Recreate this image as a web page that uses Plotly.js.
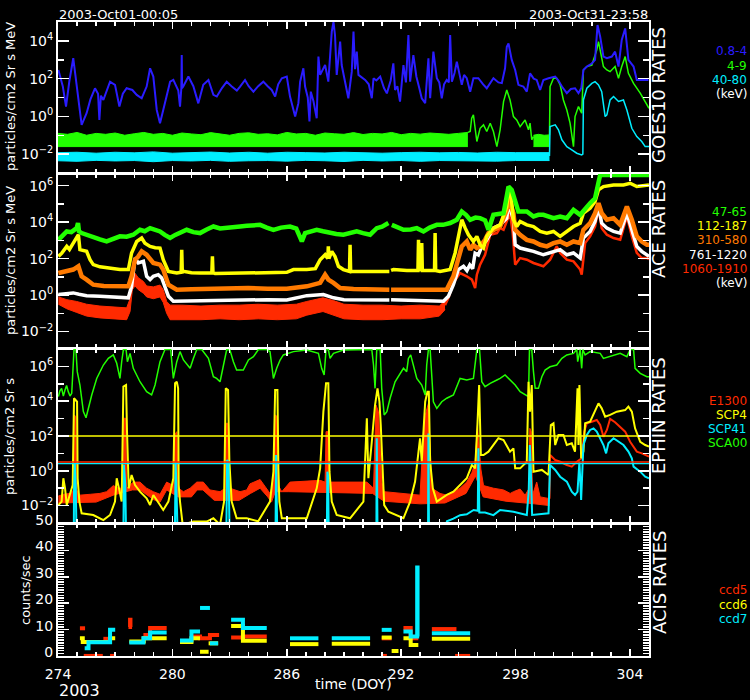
<!DOCTYPE html>
<html><head><meta charset="utf-8">
<script src="https://cdn.plot.ly/plotly-3.0.1.min.js"></script>
<style>html,body{margin:0;padding:0;background:#000}</style>
</head><body><div id="chart" style="width:750px;height:700px"></div>
<script>
// ---------- DATA (time in DOY 2003, rates as log10 values for the log panels) ----------
const xTickVals = [274, 280, 286, 292, 298, 304];
const goesTickVals = [1e-2, 1, 1e2, 1e4];
const goesTickText = ['10<sup>−2</sup>', '10<sup>0</sup>', '10<sup>2</sup>', '10<sup>4</sup>'];
const aceTickVals = [1e-2, 1, 1e2, 1e4, 1e6];
const aceTickText = ['10<sup>−2</sup>', '10<sup>0</sup>', '10<sup>2</sup>', '10<sup>4</sup>', '10<sup>6</sup>'];
const ephinTickVals = aceTickVals;
const ephinTickText = aceTickText;

const goesLabels = ['0.8-4', '4-9', '40-80', '(keV)'];
const aceLabels = ['47-65', '112-187', '310-580', '761-1220', '1060-1910', '(keV)'];
const ephinLabels = ['E1300', 'SCP4', 'SCP41', 'SCA00'];
const acisLabels = ['ccd5', 'ccd6', 'ccd7'];

// GOES 0.8-4 keV (log10)
const goesBlue = [[274.02,2.46],[274.25,1.6],[274.42,0.52],[274.6,1.9],[274.8,3.08],[275.0,1.5],[275.24,-0.45],[275.5,0.17],[275.7,0.9],[275.94,1.49],[276.1,1.2],[276.17,-0.19],[276.25,1.1],[276.38,0.87],[276.55,1.4],[276.73,1.84],[276.99,1.67],[277.22,0.52],[277.4,1.2],[277.6,1.49],[277.9,1.4],[278.13,1.14],[278.39,0.96],[278.65,1.58],[278.83,2.55],[279.0,2.11],[279.18,0.34],[279.35,-0.36],[279.52,0.34],[279.7,1.1],[279.88,1.84],[280.05,1.93],[280.31,1.37],[280.4,0.52],[280.47,1.5],[280.49,3.25],[280.51,1.5],[280.57,1.58],[280.84,2.11],[281.1,1.6],[281.36,0.69],[281.62,1.67],[281.89,1.93],[282.15,1.14],[282.33,1.05],[282.6,1.5],[282.85,1.84],[283.1,1.6],[283.38,1.37],[283.55,1.58],[283.81,1.93],[284.0,1.6],[284.25,1.31],[284.5,1.6],[284.77,1.84],[285.0,1.6],[285.21,1.4],[285.39,1.05],[285.55,1.7],[285.74,2.02],[286.0,2.11],[286.17,1.05],[286.44,-0.01],[286.61,0.7],[286.7,1.84],[286.87,2.55],[286.96,1.58],[287.1,1.0],[287.19,-0.27],[287.26,1.31],[287.4,0.8],[287.57,-0.1],[287.66,3.17],[287.75,2.2],[287.83,2.37],[288.01,2.72],[288.18,1.84],[288.36,4.49],[288.45,5.0],[288.53,4.31],[288.62,2.2],[288.71,3.25],[288.8,3.96],[288.88,2.72],[289.06,1.84],[289.23,0.96],[289.41,2.37],[289.5,4.49],[289.58,2.5],[289.67,3.43],[289.76,2.2],[289.9,2.1],[290.11,1.93],[290.3,1.7],[290.46,0.96],[290.55,2.02],[290.7,1.9],[290.9,2.11],[291.1,1.5],[291.25,1.22],[291.45,1.9],[291.59,2.81],[291.68,1.4],[291.8,1.6],[291.94,0.78],[292.12,2.72],[292.25,1.8],[292.38,4.31],[292.47,1.84],[292.64,3.25],[292.8,2.1],[292.95,1.5],[293.08,0.96],[293.26,0.7],[293.43,3.08],[293.52,0.96],[293.69,3.43],[293.87,2.02],[294.0,1.8],[294.13,0.96],[294.25,1.7],[294.39,1.93],[294.5,1.8],[294.57,4.31],[294.66,1.84],[294.8,2.3],[294.92,2.9],[295.18,1.67],[295.3,2.2],[295.44,2.02],[295.62,1.31],[295.79,2.02],[296.05,2.02],[296.3,1.7],[296.49,1.49],[296.84,2.02],[297.1,1.8],[297.28,1.76],[297.45,2.55],[297.54,3.69],[297.63,3.87],[297.8,2.99],[297.98,2.46],[298.15,1.67],[298.41,1.58],[298.59,1.31],[298.76,2.28],[298.95,2.0],[299.11,1.93],[299.29,1.4],[299.46,1.93],[299.73,2.02],[300.08,2.11],[300.25,1.9],[300.43,1.58],[300.69,1.23],[300.9,1.45],[301.12,1.49],[301.3,1.23],[301.45,1.5],[301.56,2.46],[301.74,2.64],[302.0,2.8],[302.17,2.99],[302.3,4.84],[302.44,4.22],[302.61,3.17],[302.79,3.08],[303.05,3.17],[303.22,3.43],[303.4,2.64],[303.57,4.05],[303.75,4.66],[303.92,2.99],[304.19,2.64],[304.36,1.93],[304.71,1.93],[304.97,1.93]];

// GOES 4-9 keV: quiet-time band (upper edge / lower edge) then active-time line
const goesGreenBandHi = [[274,-0.9],[274.5,-0.95],[275,-0.85],[275.5,-1.0],[276,-0.9],[276.5,-0.95],[277,-0.88],[277.5,-1.0],[278,-0.92],[278.5,-0.85],[279,-0.95],[279.5,-0.9],[280,-1.0],[280.5,-0.88],[281,-0.93],[281.5,-0.97],[282,-0.86],[282.5,-0.92],[283,-1.0],[283.5,-0.9],[284,-0.87],[284.5,-0.95],[285,-0.92],[285.5,-0.98],[286,-0.85],[286.5,-0.93],[287,-0.9],[287.5,-1.0],[288,-0.88],[288.5,-0.92],[289,-0.95],[289.5,-0.86],[290,-0.96],[290.5,-0.9],[291,-0.93],[291.5,-0.85],[292,-0.97],[292.5,-0.9],[293,-0.94],[293.5,-0.88],[294,-0.92],[294.5,-0.95],[295,-0.9],[295.5,-0.85]];
const goesGreenBandLo = [[274,-1.6],[295.5,-1.6]];
const goesGreenBand2Hi = [[298.94,-1.0],[299.2,-0.95],[299.5,-1.0],[299.78,-0.98]];
const goesGreenBand2Lo = [[298.94,-1.6],[299.78,-1.6]];
const goesGreen = [[295.5,-0.85],[295.62,-0.8],[295.7,-0.1],[295.79,0.08],[295.88,-0.63],[295.97,-1.33],[296.14,-0.63],[296.32,-0.45],[296.49,-0.8],[296.67,-0.36],[296.84,-0.8],[297.02,-1.6],[297.19,-0.71],[297.37,0.78],[297.54,1.4],[297.71,0.87],[297.89,-0.01],[298.06,-0.19],[298.24,-0.54],[298.5,-0.19],[298.68,-0.71],[298.76,-0.36],[298.85,-1.24],[298.94,-1.07],[null,null],[299.78,-1.0],[299.81,1.58],[299.99,2.02],[300.16,2.02],[300.34,1.67],[300.51,0.87],[300.69,0.34],[300.86,-0.36],[301.04,-1.6],[301.12,-0.01],[301.3,0.52],[301.47,0.17],[301.56,2.46],[301.74,2.64],[302.0,2.72],[302.26,3.52],[302.35,3.96],[302.44,3.52],[302.61,2.64],[302.79,2.46],[302.96,2.37],[303.22,2.64],[303.4,2.02],[303.57,2.64],[303.75,3.17],[303.92,2.28],[304.19,1.75],[304.54,1.23],[304.89,0.61],[305.0,0.43]];

// GOES 40-80 keV
const goesCyanBandHi = [[274,-1.92],[275,-1.9],[276,-1.95],[277,-1.9],[278,-1.93],[279,-1.88],[280,-1.95],[281,-1.92],[282,-1.89],[283,-1.94],[284,-1.9],[285,-1.95],[286,-1.9],[287,-1.92],[288,-1.94],[289,-1.9],[290,-1.91],[291,-1.95],[292,-1.92],[293,-1.9],[294,-1.93],[295,-1.91],[296,-1.94],[297,-1.9],[298,-1.92],[299,-1.93],[299.78,-1.92]];
const goesCyanBandLo = [[274,-2.35],[275,-2.38],[276,-2.33],[277,-2.36],[278,-2.34],[279,-2.4],[280,-2.34],[281,-2.36],[282,-2.33],[283,-2.38],[284,-2.35],[285,-2.34],[286,-2.37],[287,-2.33],[288,-2.35],[289,-2.39],[290,-2.33],[291,-2.36],[292,-2.34],[293,-2.38],[294,-2.34],[295,-2.35],[296,-2.33],[297,-2.37],[298,-2.34],[299,-2.35],[299.78,-2.34]];
const goesCyan = [[299.78,-2.1],[299.81,-0.54],[300.08,-0.45],[300.25,-0.71],[300.43,-1.24],[300.69,-1.6],[300.95,-1.77],[301.21,-1.95],[301.47,-2.04],[301.53,-2.0],[301.56,0.87],[301.74,1.49],[302.0,1.75],[302.17,1.84],[302.35,1.67],[302.52,1.31],[302.7,-0.01],[302.79,0.08],[302.96,0.87],[303.14,1.05],[303.4,0.79],[303.66,0.87],[303.84,0.34],[304.1,-0.63],[304.36,-1.07],[304.62,-1.33],[304.8,-1.6],[305.0,-1.6]];

// ACE channels (log10)
const aceGreen = [[274.02,3.03],[274.2,3.2],[274.46,3.49],[274.7,3.45],[274.98,3.67],[275.05,3.95],[275.1,3.5],[275.24,3.4],[275.5,3.3],[275.85,3.13],[276.2,3.05],[276.55,2.94],[276.9,3.1],[277.25,3.22],[277.6,3.2],[277.95,3.31],[278.3,3.58],[278.55,3.5],[278.83,3.67],[279.1,3.55],[279.35,3.49],[279.6,3.3],[279.88,3.13],[280.15,3.3],[280.4,3.4],[280.75,3.58],[281.1,3.45],[281.45,3.4],[281.8,3.6],[282.15,3.76],[282.5,3.65],[282.85,3.67],[283.2,3.75],[283.55,3.76],[283.9,3.8],[284.25,3.8],[284.6,3.85],[284.95,3.7],[285.3,3.58],[285.7,3.7],[286.17,3.76],[286.5,3.65],[286.7,3.22],[286.79,2.94],[286.96,3.4],[287.25,3.5],[287.57,3.58],[287.9,3.5],[288.27,3.4],[288.6,3.35],[288.97,3.31],[289.3,3.4],[289.67,3.49],[290.0,3.4],[290.37,3.31],[290.72,3.67],[291.0,3.75],[291.33,3.95],[291.42,null],[291.51,3.85],[291.8,3.7],[292.12,3.58],[292.5,3.6],[292.82,3.67],[293.17,3.49],[293.5,3.7],[293.87,3.85],[294.2,3.85],[294.57,3.95],[294.92,4.13],[295.18,4.58],[295.4,4.4],[295.62,4.13],[295.9,4.25],[296.14,4.22],[296.4,4.1],[296.58,3.58],[296.84,4.4],[297.1,4.45],[297.37,4.49],[297.5,5.2],[297.63,5.95],[297.8,5.77],[297.98,5.04],[298.15,4.58],[298.59,4.58],[298.94,4.31],[299.2,4.4],[299.46,4.4],[299.99,4.22],[300.34,4.31],[300.69,4.22],[301.04,4.67],[301.39,4.4],[301.65,4.76],[301.91,5.04],[302.17,5.31],[302.3,5.95],[302.44,6.59],[305.0,6.59]];
const aceYellow = [[274.02,2.12],[274.2,2.3],[274.46,2.67],[274.6,2.5],[274.8,2.85],[275.07,3.31],[275.15,2.49],[275.5,2.4],[275.68,1.94],[275.85,1.67],[276.2,1.55],[276.55,1.49],[276.9,1.42],[277.25,1.4],[277.69,1.4],[277.86,2.31],[278.13,2.94],[278.39,3.13],[278.56,2.85],[278.83,2.67],[279.1,2.6],[279.35,2.58],[279.52,1.94],[279.79,1.3],[280.23,1.21],[280.46,1.25],[280.49,2.49],[280.52,1.25],[280.58,1.3],[281.0,1.22],[281.45,1.21],[282.07,1.22],[282.1,2.12],[282.13,1.22],[282.24,1.18],[283.0,1.2],[283.98,1.21],[284.5,1.2],[285.2,1.22],[286.0,1.25],[286.35,1.4],[287.05,1.4],[287.5,1.45],[287.75,1.94],[288.01,2.21],[288.15,2.0],[288.18,2.67],[288.21,2.0],[288.36,2.4],[288.53,2.12],[288.71,1.58],[288.97,1.4],[289.29,1.3],[289.32,2.76],[289.35,1.3],[290.0,1.3],[290.55,1.3],[291.0,1.28],[291.38,1.3],[291.42,null],[291.47,1.35],[291.6,1.4],[292.3,1.35],[292.88,1.35],[292.91,3.03],[292.95,1.4],[293.05,1.4],[293.08,2.85],[293.11,1.35],[293.75,1.35],[293.78,3.4],[293.81,1.35],[294.04,1.3],[294.57,1.4],[294.83,2.31],[295.0,3.22],[295.18,4.13],[295.36,3.67],[295.53,3.31],[295.79,2.94],[295.97,3.22],[296.14,2.76],[296.32,2.58],[296.49,3.22],[296.84,3.67],[297.19,3.85],[297.54,4.85],[297.63,5.77],[297.75,5.6],[297.89,4.13],[298.06,3.76],[298.24,4.04],[298.59,3.85],[298.94,3.76],[299.29,3.49],[299.64,3.4],[299.99,3.49],[300.34,3.22],[300.69,3.49],[301.04,3.76],[301.39,3.94],[301.56,4.49],[301.91,4.76],[302.17,5.13],[302.35,5.77],[302.61,5.95],[303.14,6.04],[303.66,6.04],[304.01,6.13],[304.36,5.95],[305.0,6.04]];
const aceOrange = [[274.02,1.21],[274.4,1.3],[274.8,1.4],[275.07,1.58],[275.24,1.03],[275.5,0.85],[275.85,0.57],[276.4,0.5],[276.9,0.48],[277.3,0.47],[277.69,0.48],[277.86,1.03],[278.04,1.94],[278.2,2.1],[278.39,2.4],[278.65,2.21],[279.0,1.76],[279.35,1.67],[279.52,1.4],[279.79,0.57],[280.23,0.3],[281.0,0.32],[282.0,0.35],[283.0,0.33],[283.98,0.39],[285.0,0.35],[286.0,0.35],[287.05,0.48],[287.75,0.67],[288.01,1.12],[288.18,0.85],[288.45,0.67],[288.8,0.39],[289.5,0.33],[290.5,0.3],[291.25,0.3],[291.38,0.3],[291.42,null],[291.47,0.3],[292.5,0.3],[293.5,0.32],[294.04,0.3],[294.39,0.3],[294.74,1.03],[295.0,1.94],[295.18,2.67],[295.44,2.94],[295.62,2.49],[295.79,2.76],[295.97,2.58],[296.14,2.67],[296.4,3.03],[296.58,3.4],[296.84,3.58],[297.19,3.76],[297.54,4.67],[297.63,5.31],[297.89,4.49],[297.98,3.58],[298.24,3.31],[298.59,3.03],[298.94,2.94],[299.29,2.76],[299.64,2.67],[299.99,2.85],[300.34,2.94],[300.69,2.76],[301.04,2.94],[301.39,2.85],[301.56,3.58],[301.91,3.94],[302.17,4.49],[302.35,5.04],[302.52,4.49],[302.79,4.13],[303.14,4.22],[303.49,3.85],[303.84,4.85],[304.1,4.13],[304.36,3.22],[304.62,2.94],[304.89,2.76],[305.0,2.76]];
const aceWhite = [[274.02,0.03],[274.4,0.08],[274.8,0.12],[275.1,0.05],[275.5,-0.03],[276.2,-0.06],[277.0,-0.1],[277.69,-0.15],[277.86,0.48],[278.04,2.03],[278.21,1.76],[278.48,1.85],[278.65,1.03],[278.83,0.85],[279.0,1.03],[279.26,1.12],[279.44,0.94],[279.61,0.48],[279.79,-0.06],[280.05,-0.34],[281.0,-0.32],[281.45,-0.34],[282.5,-0.3],[283.98,-0.25],[285.0,-0.25],[286.0,-0.27],[287.05,-0.03],[287.92,0.03],[288.45,-0.15],[289.0,-0.25],[290.0,-0.25],[291.38,-0.27],[291.42,null],[291.47,-0.25],[292.5,-0.28],[293.5,-0.3],[294.22,-0.34],[294.48,-0.06],[294.74,0.57],[295.0,1.4],[295.27,1.58],[295.45,1.35],[295.6,1.65],[295.75,1.45],[295.88,2.3],[296.05,2.2],[296.23,2.67],[296.49,3.03],[296.84,3.67],[297.19,3.85],[297.54,4.22],[297.63,5.04],[297.89,4.13],[297.98,2.76],[298.24,2.58],[298.59,2.49],[298.94,2.4],[299.46,2.21],[299.99,2.4],[300.34,2.49],[300.69,2.21],[301.04,2.31],[301.39,2.03],[301.56,3.13],[301.91,3.49],[302.17,4.04],[302.35,4.85],[302.52,3.94],[302.79,3.67],[303.14,3.49],[303.49,3.4],[303.84,4.49],[304.1,3.58],[304.36,2.67],[304.62,2.4],[304.89,2.21],[305.0,2.12]];
const aceRedBandHi = [[274.02,-0.1],[274.46,-0.25],[274.98,-0.35],[275.5,-0.5],[276.2,-0.6],[276.9,-0.65],[277.6,-0.7],[277.78,-0.2],[277.9,0.9],[278.04,1.2],[278.21,0.95],[278.48,0.75],[278.65,0.5],[279.0,0.45],[279.35,0.55],[279.52,0.3],[279.7,-0.35],[279.88,-0.55],[280.5,-0.55],[281.5,-0.6],[282.5,-0.55],[283.5,-0.55],[284.5,-0.5],[285.5,-0.55],[286.5,-0.5],[287.05,-0.35],[287.9,-0.15],[288.45,-0.3],[289.0,-0.5],[290.0,-0.55],[291.0,-0.55],[292.0,-0.6],[293.0,-0.55],[294.0,-0.6],[294.3,-0.3]];
const aceRedBandLo = [[274.02,-0.5],[274.46,-0.75],[274.98,-0.95],[275.5,-1.15],[276.2,-1.25],[276.9,-1.3],[277.6,-1.35],[277.78,-0.9],[277.9,0.3],[278.04,0.5],[278.21,0.3],[278.48,0.1],[278.65,-0.1],[279.0,-0.2],[279.35,-0.1],[279.52,-0.4],[279.7,-1.0],[279.88,-1.35],[280.5,-1.35],[281.5,-1.35],[282.5,-1.3],[283.5,-1.35],[284.5,-1.3],[285.5,-1.35],[286.5,-1.3],[287.05,-1.1],[287.9,-0.9],[288.45,-1.1],[289.0,-1.3],[290.0,-1.35],[291.0,-1.35],[292.0,-1.3],[293.0,-1.3],[294.0,-1.15],[294.3,-0.8]];
const aceRed = [[294.3,-0.55],[294.48,-0.15],[294.74,0.67],[295.09,1.21],[295.44,1.03],[295.71,0.85],[295.88,0.39],[295.97,1.12],[296.14,1.67],[296.4,2.21],[296.67,3.31],[297.02,3.4],[297.19,3.67],[297.37,3.58],[297.54,4.04],[297.71,4.49],[297.85,3.4],[297.98,1.67],[298.24,2.03],[298.59,1.94],[298.94,1.76],[299.46,1.58],[299.81,1.94],[300.16,2.67],[300.34,2.31],[300.69,1.94],[301.04,1.85],[301.39,1.4],[301.47,1.12],[301.65,2.85],[301.91,3.22],[302.17,3.76],[302.35,4.76],[302.52,3.67],[302.79,3.31],[303.14,3.13],[303.49,3.03],[303.84,4.31],[304.1,3.22],[304.36,2.31],[304.62,2.03],[304.89,2.03],[305.0,1.98]];

// EPHIN channels (log10)
const ephinGreen = [[274.02,4.26],[274.1,4.6],[274.19,4.74],[274.28,4.3],[274.37,4.64],[274.45,4.9],[274.54,4.55],[274.63,4.3],[274.72,4.45],[274.8,6.46],[274.84,6.97],[274.94,6.97],[275.01,5.7],[275.15,4.93],[275.33,3.4],[275.47,3.05],[275.59,3.59],[275.77,4.36],[276.03,5.31],[276.38,6.08],[276.64,6.46],[276.9,6.66],[277.08,6.18],[277.17,5.7],[277.25,5.31],[277.34,6.27],[277.43,6.97],[277.57,6.97],[277.64,6.27],[277.78,6.75],[277.95,5.89],[278.3,5.12],[278.65,4.55],[278.91,4.36],[279.09,4.93],[279.35,6.27],[279.61,6.97],[279.91,6.97],[280.05,5.31],[280.23,6.27],[280.4,6.85],[280.58,6.37],[280.93,5.89],[281.1,6.46],[281.28,6.97],[281.54,6.97],[281.89,6.46],[282.15,5.41],[282.32,5.31],[282.5,5.12],[282.76,6.46],[282.85,6.97],[283.02,6.94],[283.2,6.27],[283.37,5.79],[283.72,5.79],[283.99,6.37],[284.25,6.56],[284.51,6.97],[284.95,6.97],[285.12,6.85],[285.21,6.08],[285.3,5.31],[285.47,5.89],[285.65,6.37],[285.82,6.66],[286.35,6.85],[287.05,6.94],[287.66,6.75],[287.83,5.89],[287.96,5.51],[288.06,6.97],[288.18,6.97],[288.27,6.46],[288.45,6.75],[288.97,6.94],[289.67,6.97],[290.46,6.97],[290.55,6.08],[290.63,4.74],[290.72,6.97],[290.9,6.97],[290.98,4.74],[291.11,3.21],[291.25,3.4],[291.42,4.17],[291.68,5.12],[292.12,5.89],[292.29,5.7],[292.38,6.46],[292.5,6.66],[292.64,6.08],[292.82,5.31],[293.08,4.93],[293.26,4.36],[293.34,6.08],[293.43,6.97],[293.52,6.97],[293.61,5.31],[293.69,3.97],[293.87,3.59],[294.13,3.97],[294.39,4.17],[294.74,4.36],[295.09,5.31],[295.44,5.22],[295.79,5.31],[295.97,6.97],[296.11,6.97],[296.23,5.12],[296.4,4.84],[296.67,5.03],[297.02,5.22],[297.19,5.31],[297.45,5.51],[297.71,5.22],[297.98,4.93],[298.24,4.55],[298.5,4.36],[298.68,4.26],[298.73,6.97],[298.85,6.97],[298.94,5.7],[299.03,4.74],[299.2,4.74],[299.38,5.41],[299.55,5.79],[299.81,5.98],[300.16,6.08],[300.43,6.46],[300.69,6.66],[301.04,6.75],[301.21,6.97],[301.26,6.27],[301.39,6.97],[301.47,5.89],[301.53,6.97],[301.65,6.66],[301.91,6.85],[302.44,6.75],[302.61,6.46],[302.96,6.56],[303.49,6.75],[303.84,6.56],[304.01,6.97],[304.19,6.97],[304.27,5.89],[304.54,5.6],[304.89,5.41],[305.0,5.41]];
const ephinYellow = [[274.02,-1.97],[274.19,-1.77],[274.28,-0.43],[274.37,-1.01],[274.46,-1.97],[274.63,-1.39],[274.77,-0.82],[274.84,4.17],[274.94,4.07],[275.0,3.97],[275.03,-0.43],[275.12,-1.77],[275.24,-2.44],[275.85,-2.54],[276.38,-2.83],[276.73,-2.54],[276.99,-1.77],[277.08,-0.43],[277.2,-1.01],[277.34,-1.77],[277.43,4.84],[277.57,4.93],[277.62,2.25],[277.71,-1.01],[277.86,-0.24],[278.04,-0.82],[278.3,-1.2],[278.65,-1.58],[278.83,-1.97],[279.0,-1.39],[279.35,-1.97],[279.52,-2.25],[279.79,-1.77],[280.05,-0.43],[280.14,5.03],[280.23,5.12],[280.3,4.74],[280.33,-0.82],[280.4,-1.77],[280.54,-3.1],[281.1,-2.92],[281.8,-2.92],[282.15,-2.73],[282.5,-3.1],[282.71,-1.77],[282.8,4.74],[282.92,4.64],[282.99,0.52],[283.11,-1.77],[283.37,-2.73],[283.9,-2.73],[284.5,-2.9],[285.12,-1.77],[285.3,-0.05],[285.39,4.64],[285.51,4.64],[285.56,0.14],[285.61,-1.77],[285.74,-2.73],[287.05,-2.73],[287.57,-1.01],[287.75,0.14],[287.92,3.4],[288.06,5.03],[288.18,5.03],[288.24,-0.05],[288.36,-1.77],[288.62,-2.54],[289.32,-2.73],[290.02,-1.77],[290.2,3.02],[290.28,-0.43],[290.46,1.67],[290.63,3.78],[290.76,4.74],[290.86,3.97],[290.93,2.63],[291.02,-0.05],[291.11,-1.97],[291.33,-2.35],[292.12,-2.73],[292.47,-1.77],[292.73,-0.62],[292.99,1.87],[293.08,0.52],[293.26,3.97],[293.38,4.55],[293.45,4.55],[293.52,0.52],[293.66,-1.01],[293.87,-1.77],[294.39,-1.39],[294.74,-1.2],[295.09,-0.82],[295.44,-0.43],[295.71,0.33],[295.88,0.14],[296.0,2.63],[296.09,4.93],[296.18,0.91],[296.32,0.91],[296.58,1.1],[296.84,1.48],[297.1,1.87],[297.37,1.77],[297.71,1.1],[297.89,1.29],[297.98,0.14],[298.24,0.14],[298.59,0.52],[298.68,5.12],[298.76,3.4],[298.85,4.93],[298.94,-0.05],[299.38,0.05],[299.73,-0.24],[299.85,2.63],[299.99,2.73],[300.08,1.48],[300.25,2.06],[300.51,2.06],[300.69,1.48],[300.95,1.58],[301.12,1.1],[301.25,4.74],[301.3,1.48],[301.35,4.93],[301.44,0.72],[301.56,1.1],[301.65,2.73],[301.91,2.82],[302.17,3.4],[302.35,3.88],[302.52,3.59],[302.7,3.11],[302.96,3.21],[303.31,3.4],[303.75,3.49],[303.92,3.69],[304.1,3.4],[304.27,2.44],[304.54,1.67],[304.8,1.48],[305.0,1.39]];
const ephinRedBandHi = [[274.02,-1.45],[274.3,-1.35],[274.63,-1.3],[274.82,-1.1],[274.86,3.21],[274.93,3.11],[274.98,-1.1],[275.15,-1.4],[275.7,-1.35],[276.2,-1.3],[276.55,-1.2],[276.9,-0.85],[277.17,-1.0],[277.39,-1.0],[277.45,3.02],[277.55,3.02],[277.6,-1.0],[277.95,-0.65],[278.3,-0.65],[278.65,-1.0],[279.0,-1.2],[279.35,-1.35],[279.7,-0.65],[280.05,-0.85],[280.12,2.06],[280.23,2.25],[280.31,-1.0],[280.58,-1.2],[280.93,-1.0],[281.28,-0.65],[281.62,-0.65],[281.97,-1.1],[282.5,-1.2],[282.78,-1.0],[282.81,2.73],[282.94,2.73],[283.02,-1.0],[283.55,-1.2],[283.9,-1.1],[284.07,-0.75],[284.6,-0.5],[284.95,-1.0],[285.12,-1.3],[285.3,-0.65],[285.39,3.21],[285.51,3.11],[285.56,-0.85],[285.74,-1.2],[286.17,-0.65],[287.75,-0.55],[288.01,-0.65],[288.06,2.25],[288.18,2.25],[288.24,-0.65],[290.2,-0.65],[290.55,-1.0],[290.68,3.78],[290.81,3.4],[290.9,1.1],[290.98,-0.65],[291.11,-1.2],[292.29,-1.3],[292.99,-1.4],[293.22,3.02],[293.43,3.88],[293.52,1.48],[293.61,-1.0],[294.04,-1.3],[294.39,-1.4],[294.74,-1.2],[295.09,-1.0],[295.44,-0.65],[295.71,-0.1],[295.88,0.45],[296.0,2.63],[296.09,1.48],[296.18,0.1],[296.32,-0.85],[296.84,-1.0],[297.37,-1.1],[297.72,-1.3],[297.89,-1.2],[298.24,-1.05],[298.5,-1.4],[298.69,-1.05],[298.75,2.44],[298.82,2.25],[298.89,-1.4],[299.11,-0.65],[299.29,-1.5],[299.73,-1.6],[299.78,-1.6]];
const ephinRedBandLo = [[274.02,-1.85],[276.0,-1.8],[276.9,-1.4],[277.9,-1.1],[278.3,-1.1],[279.0,-1.65],[279.35,-1.8],[279.7,-1.1],[280.3,-1.5],[281.0,-1.5],[281.3,-1.1],[281.6,-1.1],[282.2,-1.7],[283.5,-1.7],[284.1,-1.3],[284.6,-1.0],[285.0,-1.5],[285.2,-1.8],[285.4,-1.2],[286.1,-1.2],[290.5,-1.3],[291.1,-1.75],[293.0,-1.9],[294.3,-1.85],[295.4,-1.3],[295.9,-0.3],[296.3,-1.5],[297.5,-1.75],[299.0,-1.9],[299.78,-2.0]];
const ephinRed = [[299.78,-1.6],[299.81,0.91],[300.08,0.62],[300.34,0.52],[300.69,0.33],[300.95,0.24],[301.21,0.52],[301.47,0.72],[301.6,2.25],[301.74,2.73],[302.0,2.82],[302.26,2.92],[302.44,2.63],[302.61,1.96],[302.79,2.35],[302.96,2.98],[303.22,2.79],[303.49,2.54],[303.75,2.25],[304.01,1.67],[304.19,1.39],[304.36,1.1],[304.62,1.0],[305.0,0.81]];
const ephinCyan = [[274.0,-3.6],[274.83,-3.6],[274.84,-1.2],[274.88,0.43],[274.93,-0.82],[274.97,-3.6],[277.43,-3.6],[277.46,0.33],[277.53,-0.82],[277.57,-3.6],[280.13,-3.6],[280.17,0.5],[280.22,-1.2],[280.27,-3.6],[282.83,-3.6],[282.87,0.62],[282.94,0.52],[283.0,-3.6],[285.41,-3.6],[285.44,0.91],[285.5,-3.6],[288.1,-3.6],[288.13,-0.05],[288.17,-0.3],[288.2,-3.6],[290.7,-3.6],[290.72,1.87],[290.76,-3.6],[293.41,-3.6],[293.43,2.15],[293.46,-3.6],[294.3,-3.6],[294.4,-2.9],[294.74,-2.75],[295.09,-2.55],[295.44,-2.5],[295.8,-2.25],[296.02,-2.3],[296.05,1.29],[296.1,-2.4],[296.4,-2.4],[296.84,-2.55],[297.19,-2.25],[297.89,-2.35],[298.59,-2.54],[298.69,-1.2],[298.75,1.48],[298.8,0.14],[298.87,-2.54],[299.73,-2.44],[299.81,0.33],[300.08,0.05],[300.34,-0.34],[300.69,-0.62],[300.95,-1.2],[301.12,-1.39],[301.25,-1.2],[301.35,0.52],[301.44,-1.68],[301.56,1.48],[301.74,2.06],[301.91,2.35],[302.09,2.44],[302.26,2.25],[302.44,1.87],[302.61,1.48],[302.75,1.0],[302.87,1.58],[303.14,1.87],[303.4,1.67],[303.66,1.48],[303.92,1.1],[304.1,0.72],[304.19,0.24],[304.54,-0.05],[304.8,-0.34],[305.0,-0.43]];
// EPHIN threshold levels (rates)
const ephinLimitSCP4 = 100;
const ephinLimitE1300 = 3.2;
const ephinLimitSCP41 = 2.6;

// ACIS counts/sec (step segments; null = no data)
const acisCcd5X = [275.15,275.42,null,276.38,276.73,null,277.74,277.78,277.8,277.83,null,278.48,278.83,279.7,null,280.93,281.45,281.97,282.45,null,283.08,283.7,284.95,null,290.98,291.5,null,292.12,292.5,292.9,null,293.61,294.9];
const acisCcd5Y = [10.5,10.5,null,6.5,6.5,null,11,13.7,11,11,null,8.0,10.6,10.6,null,7.4,6.7,8.0,8.0,null,7.0,7.4,7.4,null,6.7,6.7,null,10.6,6.7,6.7,null,10.2,10.2];
const acisCcd5ZeroX = [275.35,276.35,null,276.73,277.0,null,290.98,291.25,null,294.83,295.62];
const acisCcd5ZeroY = [0.4,0.4,null,0.4,0.4,null,0.4,0.4,null,0.4,0.4];
const acisCcd6X = [275.15,275.3,276.73,277.0,null,277.74,278.5,279.7,null,280.4,281.0,281.45,null,281.45,281.9,null,281.9,282.4,null,283.08,283.7,284.95,null,286.17,287.66,null,288.36,290.37,null,290.98,291.5,null,291.5,291.86,null,292.12,292.5,292.9,null,293.61,295.62];
const acisCcd6Y = [6.7,5.3,6.7,6.7,null,5.5,6.7,6.7,null,5.3,6.7,6.7,null,1.6,1.6,null,4.8,4.8,null,11.4,5.8,5.8,null,4.5,4.5,null,4.6,4.6,null,7.0,7.0,null,1.9,1.9,null,6.7,4.2,4.2,null,6.5,6.5];
const acisCcd7X = [275.4,275.6,276.73,277.0,null,277.74,278.48,278.83,279.7,null,280.4,281.0,281.45,null,281.45,281.97,null,281.97,282.4,null,283.08,283.7,284.95,null,286.17,287.66,null,288.36,290.37,null,290.98,291.5,null,292.12,292.5,292.84,292.86,292.9,null,293.61,295.62];
const acisCcd7Y = [2.9,5.2,9.9,9.9,null,5.1,6.7,8.9,8.9,null,5.9,9.3,9.3,null,18.2,18.2,null,4.8,4.8,null,13.7,10.6,10.6,null,6.7,6.7,null,6.7,6.7,null,9.9,9.9,null,9.3,7.4,33.5,7.4,7.4,null,8.6,8.6];

// ---------- BUILD ----------
const C = {blue:'#2a1cff', green:'#22ff00', cyan:'#00eeff', yellow:'#ffff00', orange:'#ff7a00', white:'#ffffff', red:'#ff2a00'};
const FONT = 'DejaVu Sans, sans-serif';
function L(pairs, color, width, ax, extra) {
  return Object.assign({
    x: pairs.map(p => p[0]),
    y: pairs.map(p => (p[1] === null ? null : Math.pow(10, p[1]))),
    mode: 'lines', line: {color: color, width: width},
    xaxis: 'x' + ax, yaxis: 'y' + ax, hoverinfo: 'skip', showlegend: false, connectgaps: false
  }, extra || {});
}
function B(lo, hi, color, ax) {
  return [L(lo, color, 1, ax), L(hi, color, 1, ax, {fill: 'tonexty', fillcolor: color})];
}
function A(x, y, color, w) {
  return {x: x, y: y, mode: 'lines', line: {color: color, width: w, shape: 'hv'}, xaxis: 'x4', yaxis: 'y4', hoverinfo: 'skip', showlegend: false, connectgaps: false};
}
function hline(v, color, ax) {
  return {x: [274, 305], y: [v, v], mode: 'lines', line: {color: color, width: 1.3}, xaxis: 'x' + ax, yaxis: 'y' + ax, hoverinfo: 'skip', showlegend: false};
}

const traces = [].concat(
  B(goesGreenBandLo, goesGreenBandHi, C.green, ''),
  B(goesGreenBand2Lo, goesGreenBand2Hi, C.green, ''),
  [L(goesGreen, C.green, 1.5, '')],
  B(goesCyanBandLo, goesCyanBandHi, C.cyan, ''),
  [L(goesCyan, C.cyan, 1.5, ''), L(goesBlue, C.blue, 2, '')],
  B(aceRedBandLo, aceRedBandHi, C.red, '2'),
  [L(aceRed, C.red, 2.5, '2'), L(aceWhite, C.white, 3.5, '2'), L(aceOrange, C.orange, 4.5, '2'),
   L(aceYellow, C.yellow, 3.5, '2'), L(aceGreen, C.green, 4.5, '2')],
  [L(ephinGreen, C.green, 1.5, '3')],
  B(ephinRedBandLo, ephinRedBandHi, C.red, '3'),
  [L(ephinRed, C.red, 2, '3'), L(ephinYellow, C.yellow, 2, '3'), L(ephinCyan, C.cyan, 2, '3'),
   hline(ephinLimitSCP4, C.yellow, '3'), hline(ephinLimitE1300, C.red, '3'), hline(ephinLimitSCP41, C.cyan, '3')],
  [A(acisCcd5ZeroX, acisCcd5ZeroY, C.red, 2), A(acisCcd5X, acisCcd5Y, C.red, 4),
   A(acisCcd6X, acisCcd6Y, C.yellow, 4), A(acisCcd7X, acisCcd7Y, C.cyan, 4)]
);

const W = '#ffffff';
function xax(anchor, labels) {
  return {anchor: anchor, domain: [0, 1], range: [274, 305], tickmode: 'array', tickvals: xTickVals,
    ticks: 'inside', ticklen: 7, tickwidth: 1.5, tickcolor: W,
    minor: {dtick: 1, tick0: 274, ticks: 'inside', ticklen: 4, tickwidth: 1.5, tickcolor: W},
    showline: true, linecolor: W, linewidth: 2, mirror: 'ticks', showgrid: false, zeroline: false,
    showticklabels: labels, ticklabelstandoff: 4, tickfont: {family: FONT, size: 14, color: W}};
}
function logy(anchor, domain, range, tv, tt) {
  const minorVals = [];
  for (let e = Math.floor(range[0]); e <= Math.ceil(range[1]); e++) minorVals.push(Math.pow(10, e));
  return {anchor: anchor, domain: domain, type: 'log', range: range, tickmode: 'array', tickvals: tv, ticktext: tt,
    ticks: 'inside', ticklen: 11, tickwidth: 1.5, tickcolor: W,
    minor: {tickmode: 'array', tickvals: minorVals, ticks: 'inside', ticklen: 6, tickwidth: 1.5, tickcolor: W},
    showline: true, linecolor: W, linewidth: 2, mirror: 'ticks', showgrid: false, zeroline: false,
    tickfont: {family: FONT, size: 14, color: W}};
}
const PX = x => (x - 58) / 591;
const PY = y => (656 - y) / 634;
function ann(text, x, y, o) {
  return Object.assign({text: text, x: PX(x), y: PY(y), xref: 'paper', yref: 'paper', showarrow: false,
    xanchor: 'center', yanchor: 'middle', borderpad: 0, font: {family: FONT, size: 13, color: W}}, o || {});
}
const legendColors = {goes: [C.blue, C.green, C.cyan, W], ace: [C.green, C.yellow, C.orange, W, C.red, W],
  ephin: [C.red, C.yellow, C.cyan, C.green], acis: [C.red, C.yellow, C.cyan]};
const legendY = {goes: [51, 65.5, 79.5, 94], ace: [212, 226, 240, 254.5, 268.5, 282.5], ephin: [401, 415, 429, 443], acis: [590, 604.5, 618.5]};
const annotations = [
  ann('2003-Oct01-00:05', 58, 14, {xanchor: 'left'}),
  ann('2003-Oct31-23:58', 649, 14, {xanchor: 'right'}),
  ann('particles/cm2 Sr s MeV', 10, 97, {textangle: -90}),
  ann('particles/cm2 Sr s MeV', 10, 261, {textangle: -90}),
  ann('particles/cm2 Sr s', 10, 437, {textangle: -90}),
  ann('counts/sec', 25, 590, {textangle: -90}),
  ann('GOES10 RATES', 659, 95, {textangle: -90, font: {family: FONT, size: 18, color: W}}),
  ann('ACE RATES', 659, 229, {textangle: -90, font: {family: FONT, size: 18, color: W}}),
  ann('EPHIN RATES', 659, 415, {textangle: -90, font: {family: FONT, size: 18, color: W}}),
  ann('ACIS RATES', 659, 582, {textangle: -90, font: {family: FONT, size: 18, color: W}}),
  ann('time (DOY)', 353, 684, {font: {family: FONT, size: 14, color: W}}),
  ann('2003', 58, 690, {xanchor: 'left', font: {family: FONT, size: 16, color: W}})
];
[['goes', goesLabels], ['ace', aceLabels], ['ephin', ephinLabels], ['acis', acisLabels]].forEach(([k, labs]) => {
  labs.forEach((t, i) => annotations.push(ann(t, 748, legendY[k][i], {xanchor: 'right', font: {family: FONT, size: 12, color: legendColors[k][i]}})));
});

const layout = {
  width: 750, height: 700, paper_bgcolor: '#000', plot_bgcolor: '#000',
  margin: {l: 58, r: 101, t: 22, b: 44}, showlegend: false,
  font: {family: FONT, color: W},
  xaxis: xax('y', false), xaxis2: xax('y2', false), xaxis3: xax('y3', false), xaxis4: xax('y4', true),
  yaxis: logy('x', [0.7618, 1.0], [-3, 5], goesTickVals, goesTickText),
  yaxis2: logy('x2', [0.4858, 0.7603], [-2.9, 6.64], aceTickVals, aceTickText),
  yaxis3: logy('x3', [0.2098, 0.4842], [-3, 7], ephinTickVals, ephinTickText),
  yaxis4: {anchor: 'x4', domain: [0, 0.2082], range: [0, 50], tickmode: 'linear', tick0: 0, dtick: 10,
    ticks: 'inside', ticklen: 11, tickwidth: 1.5, tickcolor: W,
    minor: {dtick: 1, ticks: 'inside', ticklen: 6, tickwidth: 1.5, tickcolor: W},
    showline: true, linecolor: W, linewidth: 2, mirror: 'ticks', showgrid: false, zeroline: false,
    ticklabelshift: -4, tickfont: {family: FONT, size: 14, color: W}},
  annotations: annotations
};
Plotly.newPlot('chart', traces, layout, {staticPlot: true, displayModeBar: false});
</script></body></html>
